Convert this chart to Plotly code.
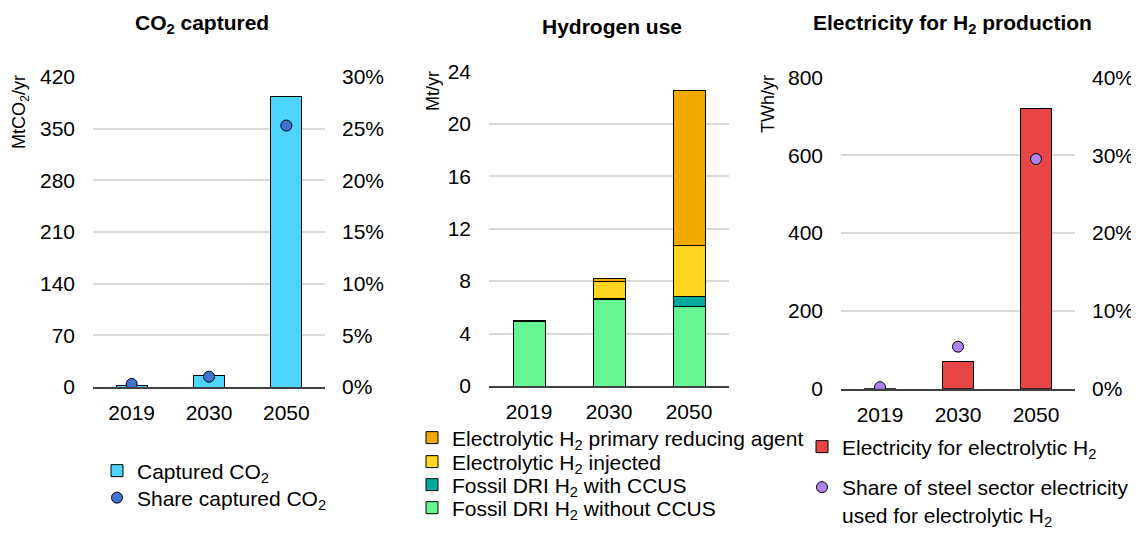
import plotly.graph_objs as go

years = ["2019", "2030", "2050"]

# CO2 captured
co2_captured = [2, 16, 393]
co2_share = [0.003, 0.010, 0.253]

# Hydrogen use (Mt/yr), stacked bottom to top
h2_fossil_no_ccus = [4.9, 6.6, 6.1]
h2_fossil_ccus = [0.1, 0.1, 0.75]
h2_injected = [0, 1.3, 3.85]
h2_primary = [0, 0.2, 11.8]

# Electricity for H2 production
elec_h2 = [0, 71, 719]
elec_share = [0.002, 0.054, 0.295]

FONT = "Liberation Sans, Arial, sans-serif"
OFF = 8  # page body margin
W, H = 1139 - OFF, 547 - OFF


def px(x):
    return (x - OFF) / W


def py(y):
    return 1 - (y - OFF) / H


def leg(x, y, **kw):
    d = dict(x=px(x), y=py(y), xanchor="left", yanchor="middle",
             font=dict(family=FONT, size=21, color="black"), bgcolor="rgba(0,0,0,0)",
             itemwidth=30, borderwidth=0, visible=True)
    d.update(kw)
    return d


fig = go.Figure()

# panel 1
fig.add_trace(go.Bar(x=years, y=co2_captured, name="Captured CO<sub>2</sub>",
                     marker=dict(color="#4DD4FF", line=dict(color="black", width=1)),
                     xaxis="x", yaxis="y", legend="legend"))
fig.add_trace(go.Scatter(x=years, y=co2_share, name="Share captured CO<sub>2</sub>", mode="markers",
                         marker=dict(color="#3F73D4", size=11, line=dict(color="black", width=1)),
                         xaxis="x", yaxis="y2", legend="legend2"))

# panel 2
h2_series = [
    ("Fossil DRI H<sub>2</sub> without CCUS", h2_fossil_no_ccus, "#66F593", "legend6"),
    ("Fossil DRI H<sub>2</sub> with CCUS", h2_fossil_ccus, "#00A99D", "legend5"),
    ("Electrolytic H<sub>2</sub> injected", h2_injected, "#FFD520", "legend4"),
    ("Electrolytic H<sub>2</sub> primary reducing agent", h2_primary, "#F2A900", "legend3"),
]
for name, vals, col, lg in h2_series:
    fig.add_trace(go.Bar(x=years, y=vals, name=name,
                         marker=dict(color=col, line=dict(color="black", width=1)),
                         xaxis="x3", yaxis="y3", legend=lg))

# panel 3
fig.add_trace(go.Bar(x=years, y=elec_h2, name="Electricity for electrolytic H<sub>2</sub>",
                     marker=dict(color="#E84646", line=dict(color="black", width=1)),
                     xaxis="x5", yaxis="y5", legend="legend7"))
fig.add_trace(go.Scatter(x=years, y=elec_share,
                         name="Share of steel sector electricity<br>used for electrolytic H<sub>2</sub>",
                         mode="markers",
                         marker=dict(color="#B084F0", size=11, line=dict(color="black", width=1)),
                         xaxis="x5", yaxis="y6", legend="legend8"))

tickfont = dict(family=FONT, size=21, color="black")
xcommon = dict(type="category", showline=True, linecolor="#404040", linewidth=2,
               ticks="", tickfont=tickfont, showgrid=False, automargin=False,
               ticklabelstandoff=6)
ycommon = dict(showgrid=True, gridcolor="#D9D9D9", gridwidth=1.5, zeroline=False,
               showline=False, ticks="", tickfont=tickfont, ticklabelstandoff=17,
               automargin=False)
y2common = dict(showgrid=False, zeroline=False, showline=False, ticks="",
                tickfont=tickfont, side="right", tickformat=".0%", ticklabelstandoff=16,
                automargin=False)

dom1 = [px(93), px(325)]
dom2 = [px(489), px(729)]
dom3 = [px(841), px(1075)]

fig.update_layout(
    xaxis=dict(domain=dom1, anchor="y", **xcommon),
    yaxis=dict(domain=[py(387), py(77)], range=[0, 420], dtick=70, anchor="x", **ycommon),
    yaxis2=dict(domain=[py(387), py(77)], range=[0, 0.30], dtick=0.05, overlaying="y",
                anchor="x", **y2common),
    xaxis3=dict(domain=dom2, anchor="y3", **xcommon),
    yaxis3=dict(domain=[py(386), py(71.3)], range=[0, 24], dtick=4, anchor="x3", **ycommon),
    xaxis5=dict(domain=dom3, anchor="y5", **xcommon),
    yaxis5=dict(domain=[py(388.7), py(77.3)], range=[0, 800], dtick=200, anchor="x5", **ycommon),
    yaxis6=dict(domain=[py(388.7), py(77.3)], range=[0, 0.40], dtick=0.10, overlaying="y5",
                anchor="x5", **y2common),
    barmode="stack",
    bargap=0.6,
    showlegend=True,
    width=W, height=H,
    margin=dict(l=0, r=0, t=0, b=0, autoexpand=False),
    plot_bgcolor="white", paper_bgcolor="white",
    font=dict(family=FONT, size=21, color="black"),
    legend=leg(97, 471),
    legend2=leg(97, 498),
    legend3=leg(412, 438),
    legend4=leg(412, 462),
    legend5=leg(412, 485),
    legend6=leg(412, 508),
    legend7=leg(802, 447),
    legend8=leg(802, 501, valign="top"),
)

titles = [
    ("CO<sub>2</sub> captured", 202, 24),
    ("Hydrogen use", 612, 26),
    ("Electricity for H<sub>2</sub> production", 952, 24),
]
for text, x, y in titles:
    fig.add_annotation(text="<b>" + text + "</b>", x=px(x), y=py(y), xref="paper", yref="paper",
                       showarrow=False, xanchor="center", yanchor="middle",
                       font=dict(family=FONT, size=21, color="black"))

ytitles = [
    ("MtCO<sub>2</sub>/yr", 20, 112),
    ("Mt/yr", 433, 91),
    ("TWh/yr", 768, 104),
]
for text, x, y in ytitles:
    fig.add_annotation(text=text, x=px(x), y=py(y), xref="paper", yref="paper",
                       showarrow=False, textangle=-90, xanchor="center", yanchor="middle",
                       font=dict(family=FONT, size=18, color="black"))

fig.write_html("out.html")
